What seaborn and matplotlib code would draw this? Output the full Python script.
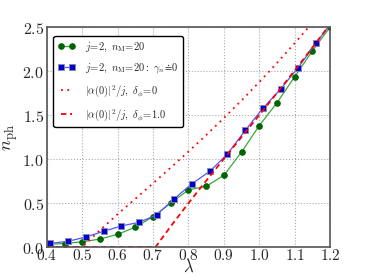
import numpy as np
import pandas as pd
import matplotlib
matplotlib.use('Agg')
import matplotlib.pyplot as plt
import seaborn as sns

# values
lam_green = [0.40, 0.45, 0.50, 0.55, 0.60, 0.65, 0.70, 0.75, 0.80, 0.85, 0.90,
             0.95, 1.00, 1.05, 1.10, 1.15, 1.20]
n_green = [0.03, 0.04, 0.06, 0.09, 0.145, 0.225, 0.345, 0.50, 0.65, 0.69, 0.815,
           1.08, 1.38, 1.64, 1.935, 2.23, 2.50]

lam_blue = [0.41, 0.46, 0.51, 0.56, 0.61, 0.66, 0.71, 0.76, 0.81, 0.86, 0.91,
            0.96, 1.01, 1.06, 1.11, 1.16, 1.21]
n_blue = [0.042, 0.065, 0.114, 0.178, 0.239, 0.28, 0.365, 0.55, 0.72, 0.86, 1.057,
          1.325, 1.576, 1.795, 2.04, 2.32, 2.58]

lam_mf = [0.40, 0.45, 0.50, 0.55, 0.60, 0.65, 0.70, 0.75, 0.80, 0.85, 0.90,
          0.95, 1.00, 1.05, 1.10, 1.15, 1.20]
n_delta0 = [0.0, 0.0, 0.0, 0.192, 0.373, 0.549, 0.725, 0.903, 1.085, 1.272, 1.466,
            1.667, 1.875, 2.092, 2.317, 2.55, 2.793]

lam_d1 = [0.40, 0.45, 0.50, 0.55, 0.60, 0.65, 0.70, 0.707, 0.75, 0.80, 0.85, 0.90,
          0.95, 1.00, 1.05, 1.10, 1.15, 1.20]
n_delta1 = [0.0, 0.0, 0.0, 0.0, 0.0, 0.0, 0.0, 0.0, 0.236, 0.499, 0.753, 1.003,
            1.251, 1.5, 1.751, 2.007, 2.267, 2.533]

sns.set_style('whitegrid')
plt.rcParams['mathtext.fontset'] = 'cm'
plt.rcParams['font.family'] = ['DejaVu Serif']

fig = plt.figure(figsize=(3.66, 2.76), dpi=100)
ax = fig.add_axes([0.128, 0.105, 0.774, 0.797])

sns.lineplot(x=lam_green, y=n_green, ax=ax, color='#3aa83a', lw=0.9,
             marker='o', markersize=4, markerfacecolor='#006400',
             markeredgecolor='#006400', label=r'$j\!=\!2,\ n_{\rm M}\!=\!20$')
sns.lineplot(x=lam_blue, y=n_blue, ax=ax, color='#5555ff', lw=0.9,
             marker='s', markersize=4.5, markerfacecolor='#0000cc',
             markeredgecolor='#8888aa', markeredgewidth=0.6,
             label=r'$j\!=\!2,\ n_{\rm M}\!=\!20:\ \gamma_n\!\doteq\!0$')
sns.lineplot(x=lam_mf, y=n_delta0, ax=ax, color='red', lw=1.3, ls=(0, (1, 2.5)),
             label=r'$|\alpha(0)|^2/j,\ \delta_\phi\!=\!0$')
sns.lineplot(x=lam_d1, y=n_delta1, ax=ax, color='red', lw=1.3, ls=(0, (3, 2)),
             label=r'$|\alpha(0)|^2/j,\ \delta_\phi\!=\!1.0$')

ax.set_xlim(0.4, 1.2)
ax.set_ylim(0, 2.5)
xt = [0.4, 0.5, 0.6, 0.7, 0.8, 0.9, 1.0, 1.1, 1.2]
yt = [0.0, 0.5, 1.0, 1.5, 2.0, 2.5]
ax.set_xticks(xt)
ax.set_xticklabels(['$%.1f$' % v for v in xt], fontsize=11)
ax.set_yticks(yt)
ax.set_yticklabels(['$%.1f$' % v for v in yt], fontsize=11.5)
ax.tick_params(axis='x', length=0, pad=1)
ax.tick_params(axis='y', length=0, pad=2)
ax.set_xlabel(r'$\lambda$', fontsize=12, labelpad=-3)
ax.set_ylabel(r'$\bar{n}_{\rm ph}$', fontsize=13, labelpad=1)

ax.grid(True, color='#aaaaaa', ls=':', lw=0.8)
for s in ax.spines.values():
    s.set_color('#555555')
    s.set_linewidth(1.2)

leg = ax.legend(loc='upper left', fontsize=7.5, numpoints=2, handlelength=1.6,
                frameon=True, fancybox=True, framealpha=1, borderpad=0.45,
                labelspacing=0.75, handletextpad=1.0,
                bbox_to_anchor=(0.005, 0.985))
leg.get_frame().set_edgecolor('black')
leg.get_frame().set_linewidth(1.0)

fig.savefig('out.png', dpi=100)
